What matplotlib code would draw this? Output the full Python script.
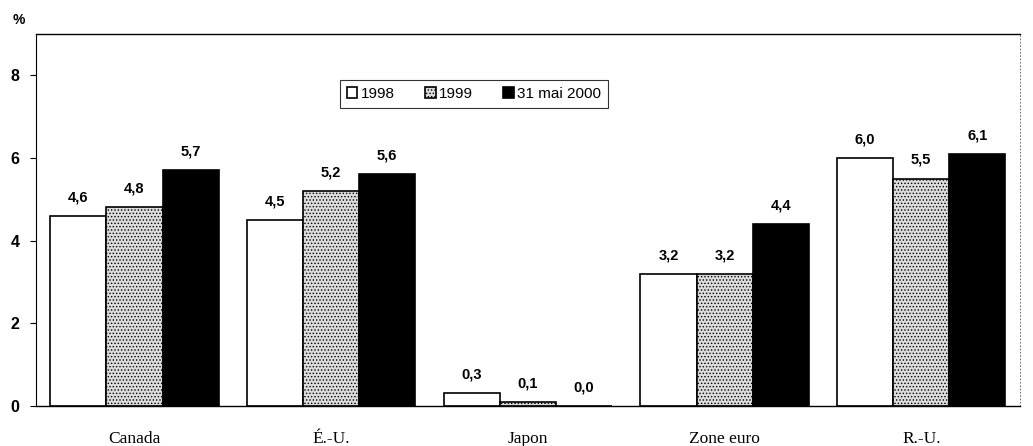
import numpy as np
import matplotlib.pyplot as plt

categories = ['Canada', 'É.-U.', 'Japon', 'Zone euro', 'R.-U.']
series_names = ['1998', '1999', '31 mai 2000']
v1998 = [4.6, 4.5, 0.3, 3.2, 6.0]
v1999 = [4.8, 5.2, 0.1, 3.2, 5.5]
v2000 = [5.7, 5.6, 0.0, 4.4, 6.1]
yticks = [0, 2, 4, 6, 8]

plt.rcParams['hatch.color'] = '#606060'
plt.rcParams['hatch.linewidth'] = 0.6

fig = plt.figure(figsize=(10.33, 4.46), dpi=100)
ax = fig.add_axes([0.035, 0.09, 0.952, 0.834])

x = np.arange(len(categories))
w = 0.285
styles = [
    dict(facecolor='white', edgecolor='black', hatch=None),
    dict(facecolor='#dcdcdc', edgecolor='black', hatch='.....'),
    dict(facecolor='black', edgecolor='black', hatch=None),
]
all_vals = [v1998, v1999, v2000]

for i, (vals, st, name) in enumerate(zip(all_vals, styles, series_names)):
    pos = x + (i - 1) * w
    ax.bar(pos, vals, width=w, linewidth=1.2, label=name, **st)
    for px, v in zip(pos, vals):
        ax.text(px, v + 0.28, f'{v:.1f}'.replace('.', ','), ha='center', va='bottom',
                fontsize=10.5, fontweight='bold', family='Liberation Sans')

ax.set_xlim(-0.5, len(categories) - 0.5)
ax.set_ylim(0, 9)
ax.set_yticks(yticks)
ax.set_yticklabels([str(t) for t in yticks], fontsize=11.5, fontweight='bold', family='Liberation Sans')
ax.set_xticks(x)
ax.set_xticklabels(categories, fontsize=12.5, family='Liberation Serif')
ax.tick_params(axis='x', length=0, pad=18)
ax.tick_params(axis='y', length=4, direction='out', pad=8)

ax.spines['top'].set_linewidth(1.0)
ax.spines['left'].set_linewidth(0.8)
ax.spines['left'].set_linestyle((0, (4, 1)))
ax.spines['right'].set_linewidth(0.6)
ax.spines['right'].set_linestyle((0, (1, 3)))
ax.spines['right'].set_color('#555555')
ax.spines['bottom'].set_linewidth(1.0)

fig.text(0.012, 0.955, '%', fontsize=10, fontweight='bold', family='Liberation Sans', va='center')

leg = ax.legend(loc='upper left', bbox_to_anchor=(0.301, 0.897), ncol=3, frameon=True,
                fancybox=False, edgecolor='black', handlelength=0.7, handleheight=0.7,
                handletextpad=0.2, columnspacing=2.0, borderpad=0.45,
                prop={'family': 'Liberation Sans', 'size': 11})
leg.get_frame().set_linewidth(0.8)

fig.savefig('out.png', dpi=100)
